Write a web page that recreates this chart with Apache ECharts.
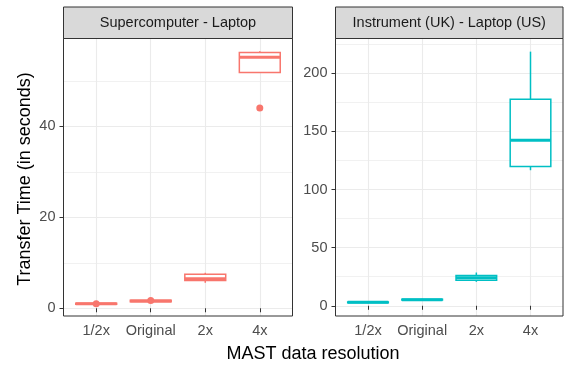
<!DOCTYPE html>
<html>
<head>
<meta charset="utf-8">
<script src="https://cdn.jsdelivr.net/npm/echarts@6/dist/echarts.min.js"></script>
<style>html,body{margin:0;padding:0;background:#fff;}#c{width:568px;height:367px;}</style>
</head>
<body>
<div id="c"></div>
<script>
// ---- data ----
const categories = ['1/2x', 'Original', '2x', '4x'];
const panelTitles = ['Supercomputer - Laptop', 'Instrument (UK) - Laptop (US)'];
// Supercomputer - Laptop
const scMin = [0.8, 1.3, 5.6, 51.8];
const scQ1  = [0.9, 1.45, 6.1, 51.8];
const scMed = [1.0, 1.6, 6.5, 55.2];
const scQ3  = [1.1, 1.75, 7.5, 56.2];
const scMax = [1.2, 1.9, 7.8, 56.5];
const scOutX = ['1/2x', 'Original', '4x'];
const scOutY = [1.0, 1.7, 44.0];
// Instrument (UK) - Laptop (US)
const ukMin = [2.2, 4.5, 20.6, 116.6];
const ukQ1  = [2.6, 4.9, 22.0, 119.7];
const ukMed = [3.0, 5.2, 24.0, 142.3];
const ukQ3  = [3.3, 5.6, 26.0, 177.7];
const ukMax = [3.6, 6.0, 28.6, 218.6];
// tick labels
const scMajorTicks = [0, 20, 40];
const scMinorTicks = [10, 30, 50];
const ukMajorTicks = [0, 50, 100, 150, 200];
const ukMinorTicks = [25, 75, 125, 175, 225];

const colors = ['#F8766D', '#00BFC4'];
const FONT = 'Liberation Sans, Arial, sans-serif';

function boxData(mn, q1, md, q3, mx) {
  return categories.map((c, i) => [i + 1, mn[i], q1[i], md[i], q3[i], mx[i]]);
}
function outData(xs, ys) {
  return xs.map((c, i) => [categories.indexOf(c) + 1, ys[i]]);
}
function makeRender(color) {
  return function (params, api) {
    const x = api.value(0);
    const pMin = api.coord([x, api.value(1)]);
    const pQ1 = api.coord([x, api.value(2)]);
    const pMed = api.coord([x, api.value(3)]);
    const pQ3 = api.coord([x, api.value(4)]);
    const pMax = api.coord([x, api.value(5)]);
    const w = api.size([0.75, 0])[0];
    const cx = pMed[0];
    return {
      type: 'group',
      children: [
        { type: 'line', shape: { x1: cx, y1: pQ3[1], x2: cx, y2: pMax[1] }, style: { stroke: color, lineWidth: 1.5 } },
        { type: 'line', shape: { x1: cx, y1: pQ1[1], x2: cx, y2: pMin[1] }, style: { stroke: color, lineWidth: 1.5 } },
        { type: 'rect', shape: { x: cx - w / 2, y: pQ3[1], width: w, height: pQ1[1] - pQ3[1] }, style: { fill: '#fff', stroke: color, lineWidth: 1.5 } },
        { type: 'line', shape: { x1: cx - w / 2, y1: pMed[1], x2: cx + w / 2, y2: pMed[1] }, style: { stroke: color, lineWidth: 3 } }
      ]
    };
  };
}

const grids = [
  { left: 63.5, top: 38.5, width: 229, height: 277.5 },
  { left: 335.5, top: 38.5, width: 227.5, height: 277.5 }
];

function xAxis(gi) {
  return {
    type: 'value', gridIndex: gi, min: 0.4, max: 4.6,
    axisLine: { show: false },
    axisTick: { show: true, length: 4, lineStyle: { color: '#333', width: 1 }, customValues: [1, 2, 3, 4] },
    axisLabel: { show: true, customValues: [1, 2, 3, 4], formatter: v => categories[Math.round(v) - 1] || '', color: '#4d4d4d', fontSize: 14.5, fontFamily: FONT, margin: 7 },
    splitLine: { show: true, lineStyle: { color: '#ebebeb', width: 1.1 } }
  };
}
function yMajor(gi, min, max, ticks) {
  return {
    type: 'value', gridIndex: gi, min: min, max: max, position: 'left',
    axisLine: { show: false },
    axisTick: { show: true, length: 4, lineStyle: { color: '#333', width: 1 }, customValues: ticks },
    axisLabel: { show: true, customValues: ticks, color: '#4d4d4d', fontSize: 14.5, fontFamily: FONT, margin: 8 },
    splitLine: { show: true, lineStyle: { color: '#ebebeb', width: 1.1 } }
  };
}
function yMinor(gi, min, max, ticks) {
  return {
    type: 'value', gridIndex: gi, min: min, max: max, position: 'left',
    axisLine: { show: false },
    axisTick: { show: false, customValues: ticks },
    axisLabel: { show: false, customValues: ticks },
    splitLine: { show: true, lineStyle: { color: '#ededed', width: 0.8 } },
    z: 0
  };
}

const stripGraphics = grids.map((g, i) => ({
  type: 'group',
  children: [
    { type: 'rect', shape: { x: g.left, y: 7, width: g.width, height: g.top - 7 }, style: { fill: '#d9d9d9', stroke: '#333', lineWidth: 1 } },
    { type: 'text', x: g.left + g.width / 2, y: (7 + g.top) / 2 + 0.5, style: { text: panelTitles[i], fill: '#1a1a1a', font: '14.5px ' + FONT, textAlign: 'center', textVerticalAlign: 'middle' } }
  ]
}));

const chart = echarts.init(document.getElementById('c'), null, { renderer: 'canvas' });
chart.setOption({
  animation: false,
  backgroundColor: '#fff',
  grid: grids.map(g => Object.assign({ show: true, borderColor: '#333', borderWidth: 1, backgroundColor: 'transparent', z: 3 }, g)),
  xAxis: [xAxis(0), xAxis(1)],
  yAxis: [
    yMajor(0, -1.7, 59.3, scMajorTicks), yMinor(0, -1.7, 59.3, scMinorTicks),
    yMajor(1, -8.8, 229.9, ukMajorTicks), yMinor(1, -8.8, 229.9, ukMinorTicks)
  ],
  series: [
    { type: 'custom', xAxisIndex: 0, yAxisIndex: 0, data: boxData(scMin, scQ1, scMed, scQ3, scMax), encode: { x: 0, y: [1, 2, 3, 4, 5] }, renderItem: makeRender(colors[0]), z: 5 },
    { type: 'scatter', xAxisIndex: 0, yAxisIndex: 0, data: outData(scOutX, scOutY), symbolSize: 7, itemStyle: { color: colors[0], opacity: 1 }, z: 6 },
    { type: 'custom', xAxisIndex: 1, yAxisIndex: 2, data: boxData(ukMin, ukQ1, ukMed, ukQ3, ukMax), encode: { x: 0, y: [1, 2, 3, 4, 5] }, renderItem: makeRender(colors[1]), z: 5 }
  ],
  graphic: stripGraphics.concat([
    { type: 'text', x: 25, y: 179, rotation: Math.PI / 2, style: { text: 'Transfer Time (in seconds)', fill: '#000', font: '18px ' + FONT, textAlign: 'center', textVerticalAlign: 'middle' } },
    { type: 'text', x: 313, y: 354, style: { text: 'MAST data resolution', fill: '#000', font: '18px ' + FONT, textAlign: 'center', textVerticalAlign: 'middle' } }
  ])
});
</script>
</body>
</html>
